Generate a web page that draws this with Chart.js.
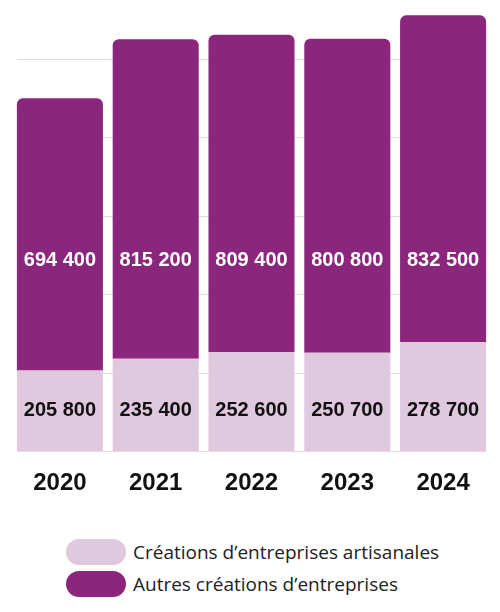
<!DOCTYPE html>
<html>
<head>
<meta charset="utf-8">
<script src="https://cdn.jsdelivr.net/npm/chart.js@4/dist/chart.umd.min.js"></script>
<style>
  html, body { margin: 0; padding: 0; background: #ffffff; }
  #wrap { position: relative; width: 500px; height: 612px; }
  #chartBox { position: absolute; left: 0; top: 0; width: 500px; height: 520px; }
  #legend { position: absolute; left: 66px; top: 536px; font-family: "Open Sans", sans-serif; font-size: 19px; color: #222; }
  .item { display: flex; align-items: center; height: 32px; }
  .box { width: 60px; height: 26px; border-radius: 13px; margin-right: 7px; }
</style>
</head>
<body>
<div id="wrap">
  <div id="chartBox"><canvas id="c"></canvas></div>
  <div id="legend"></div>
</div>
<script>
const categories = ['2020', '2021', '2022', '2023', '2024'];
const artisanales = [205800, 235400, 252600, 250700, 278700];
const autres = [694400, 815200, 809400, 800800, 832500];
const seriesLabels = ['Créations d\u2019entreprises artisanales', 'Autres créations d\u2019entreprises'];
const seriesColors = ['#E0C8DE', '#8B267D'];
const labelColors = ['#111111', '#ffffff'];
const labelAnchorValues = [105000, 485000];
const gridStep = 200000;
const axisMax = 1130000;

function fmt(v) { return String(v).replace(/\B(?=(\d{3})+(?!\d))/g, ' '); }

// Horizontal gridlines drawn from the y scale's ticks, spanning the bar range
const gridLines = {
  id: 'gridLines',
  beforeDatasetsDraw(chart) {
    const ctx = chart.ctx;
    const y = chart.scales.y;
    const bars = chart.getDatasetMeta(0).data;
    const first = bars[0], last = bars[bars.length - 1];
    const x0 = first.x - first.width / 2;
    const x1 = last.x + last.width / 2;
    ctx.save();
    ctx.strokeStyle = '#dedede';
    ctx.lineWidth = 1;
    y.ticks.forEach(t => {
      const py = Math.round(y.getPixelForValue(t.value)) + 0.5;
      ctx.beginPath();
      ctx.moveTo(x0, py);
      ctx.lineTo(x1, py);
      ctx.stroke();
    });
    ctx.restore();
  }
};

const valueLabels = {
  id: 'valueLabels',
  afterDatasetsDraw(chart) {
    const ctx = chart.ctx;
    const y = chart.scales.y;
    ctx.save();
    ctx.font = 'bold 20px "Liberation Sans", Arial, sans-serif';
    ctx.textAlign = 'center';
    ctx.textBaseline = 'middle';
    chart.data.datasets.forEach((ds, di) => {
      const meta = chart.getDatasetMeta(di);
      meta.data.forEach((bar, i) => {
        ctx.fillStyle = labelColors[di];
        ctx.fillText(fmt(ds.data[i]), bar.x, y.getPixelForValue(labelAnchorValues[di]));
      });
    });
    ctx.restore();
  }
};

const chart = new Chart(document.getElementById('c'), {
  type: 'bar',
  data: {
    labels: categories,
    datasets: [
      { label: seriesLabels[0], data: artisanales, backgroundColor: seriesColors[0], borderRadius: 0, borderSkipped: false },
      { label: seriesLabels[1], data: autres, backgroundColor: seriesColors[1],
        borderRadius: { topLeft: 6, topRight: 6, bottomLeft: 0, bottomRight: 0 }, borderSkipped: false }
    ]
  },
  options: {
    responsive: true,
    maintainAspectRatio: false,
    animation: false,
    layout: { padding: { left: 12, right: 9, top: 8, bottom: 4 } },
    plugins: { legend: { display: false }, tooltip: { enabled: false } },
    datasets: { bar: { categoryPercentage: 1, barPercentage: 0.898 } },
    scales: {
      x: {
        stacked: true,
        grid: { display: false, drawTicks: false },
        border: { display: false },
        ticks: { padding: 18, color: '#111', font: { family: '"Liberation Sans", Arial, sans-serif', size: 24, weight: 'bold' } }
      },
      y: {
        stacked: true,
        min: 0,
        max: axisMax,
        border: { display: false },
        grid: { display: false, drawTicks: false },
        ticks: { display: false },
        afterBuildTicks: (scale) => {
          const t = [];
          for (let v = 0; v <= scale.max; v += gridStep) t.push({ value: v });
          scale.ticks = t;
        }
      }
    }
  },
  plugins: [gridLines, valueLabels]
});

const legend = document.getElementById('legend');
chart.data.datasets.forEach((ds) => {
  const item = document.createElement('div');
  item.className = 'item';
  const box = document.createElement('span');
  box.className = 'box';
  box.style.background = ds.backgroundColor;
  const txt = document.createElement('span');
  txt.textContent = ds.label;
  item.appendChild(box);
  item.appendChild(txt);
  legend.appendChild(item);
});
</script>
</body>
</html>
